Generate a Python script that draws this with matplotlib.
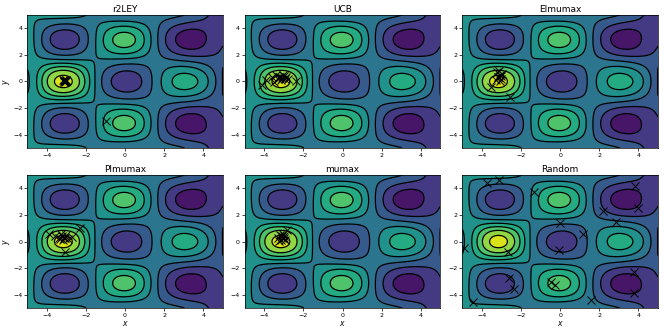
import numpy as np
import matplotlib
matplotlib.use("Agg")
import matplotlib.pyplot as plt

titles = ["r2LEY", "UCB", "EImumax", "PImumax", "mumax", "Random"]

r2ley_x = [-3.05, -3.1, -3.0, -3.15, -3.05, -3.1, -3.0, -3.08, -3.12, -3.02, -3.06, -0.95]
r2ley_y = [0.05, 0.0, 0.1, 0.08, -0.02, 0.12, 0.02, 0.06, -0.04, 0.09, 0.03, -2.95]

ucb_x = [-4.1, -3.9, -3.6, -3.4, -3.3, -3.2, -3.1, -3.0, -2.9, -2.8, -3.15, -3.05, -2.95, -3.25, -2.4, -3.5]
ucb_y = [-0.25, 0.1, 0.3, 0.45, 0.2, 0.35, 0.25, 0.4, 0.3, 0.2, 0.1, 0.5, 0.15, 0.3, 0.0, -0.05]

ei_x = [-3.2, -3.1, -3.0, -3.25, -3.15, -3.05, -2.95, -3.3, -3.1, -3.2, -3.52, -2.55]
ei_y = [0.3, 0.5, 0.4, 0.7, 0.8, 0.2, 0.55, 0.1, 0.0, 0.35, -0.44, -1.14]

pi_x = [-3.9, -3.6, -3.4, -3.3, -3.2, -3.1, -3.0, -2.9, -2.7, -2.32, -3.15, -3.05, -3.05, -3.25]
pi_y = [0.55, 0.45, 0.3, 0.2, 0.4, 0.3, 0.5, 0.2, 0.35, 1.0, 0.1, 0.25, -0.77, 0.6]

mu_x = [-3.3, -3.2, -3.1, -3.0, -2.95, -3.15, -3.05, -3.25, -2.84, -3.1, -3.0]
mu_y = [0.3, 0.5, 0.4, 0.3, 0.1, 0.15, 0.6, 0.05, 0.9, 0.25, 0.45]

rand_x = [-3.73, -3.14, -1.34, 3.82, 3.97, 2.18, 2.87, 0.0, 1.17, -4.93,
          -2.68, -0.05, -2.63, -2.38, -0.47, -0.24, -4.45, 1.58, 3.76, 3.76]
rand_y = [4.42, 4.62, 3.69, 4.20, 2.49, 2.31, 1.46, 1.36, 0.60, -0.45,
          -0.78, -0.60, -2.74, -3.54, -3.04, -3.24, -4.55, -4.42, -2.29, -3.84]

points = [(r2ley_x, r2ley_y), (ucb_x, ucb_y), (ei_x, ei_y),
          (pi_x, pi_y), (mu_x, mu_y), (rand_x, rand_y)]

# height of each bump of the objective (cells at multiples of pi)
amp_row_0 = [1.0, 4.0, 2.3, 2.33, 3.0]
amp_row_1 = [1.5, 2.7, 2.9, 2.25, 1.0]
amp_row_2 = [1.0, 1.5, 1.0, 1.0, 1.0]
amp = np.array([amp_row_2, amp_row_1, amp_row_0, amp_row_1, amp_row_2])

# objective surface
x = np.linspace(-5, 5, 300)
y = np.linspace(-5, 5, 300)
X, Y = np.meshgrid(x, y)
centers = np.arange(-2, 3) * np.pi
num = np.zeros_like(X)
den = np.zeros_like(X)
for j, cy in enumerate(centers):
    for i, cx in enumerate(centers):
        w = np.exp(-((X - cx) ** 2 + (Y - cy) ** 2) / 2.0)
        num += w * amp[j, i]
        den += w
A = num / den
drop = 0.015 * np.clip(X, 0, None) ** 2 * (1 + 4.5 * Y ** 2 / (Y ** 2 + 4))
base = 3.6 - 0.1 * X - drop + 0.6 * np.exp(-((X + 3.1) ** 2 + Y ** 2) / 4.5)
Z = np.maximum(base - A * np.cos(X) * np.cos(Y), 0.01)
levels = np.arange(0, 10)

fig, axes = plt.subplots(2, 3, figsize=(6.64, 3.32), dpi=100)
plt.subplots_adjust(left=0.041, right=0.991, top=0.955, bottom=0.072,
                    wspace=0.112, hspace=0.203)

for i, ax in enumerate(axes.flat):
    ax.contourf(X, Y, Z, levels=levels, cmap="viridis")
    ax.contour(X, Y, Z, levels=levels, colors="k", linewidths=0.9)
    px, py = points[i]
    ax.plot(px, py, "kx", markersize=5.5, markeredgewidth=0.7)
    ax.set_xlim(-5, 5)
    ax.set_ylim(-5, 5)
    ax.set_xticks([-4, -2, 0, 2, 4])
    ax.set_yticks([-4, -2, 0, 2, 4])
    ax.tick_params(labelsize=4.5, length=2, width=0.5, pad=1.5)
    ax.set_title(titles[i], fontsize=6.5, pad=2)
    for s in ax.spines.values():
        s.set_linewidth(0.5)
    if i % 3 == 0:
        ax.set_ylabel("$y$", fontsize=5.5, labelpad=1)
    if i >= 3:
        ax.set_xlabel("$x$", fontsize=5.5, labelpad=1)

plt.savefig("out.png", dpi=100)
